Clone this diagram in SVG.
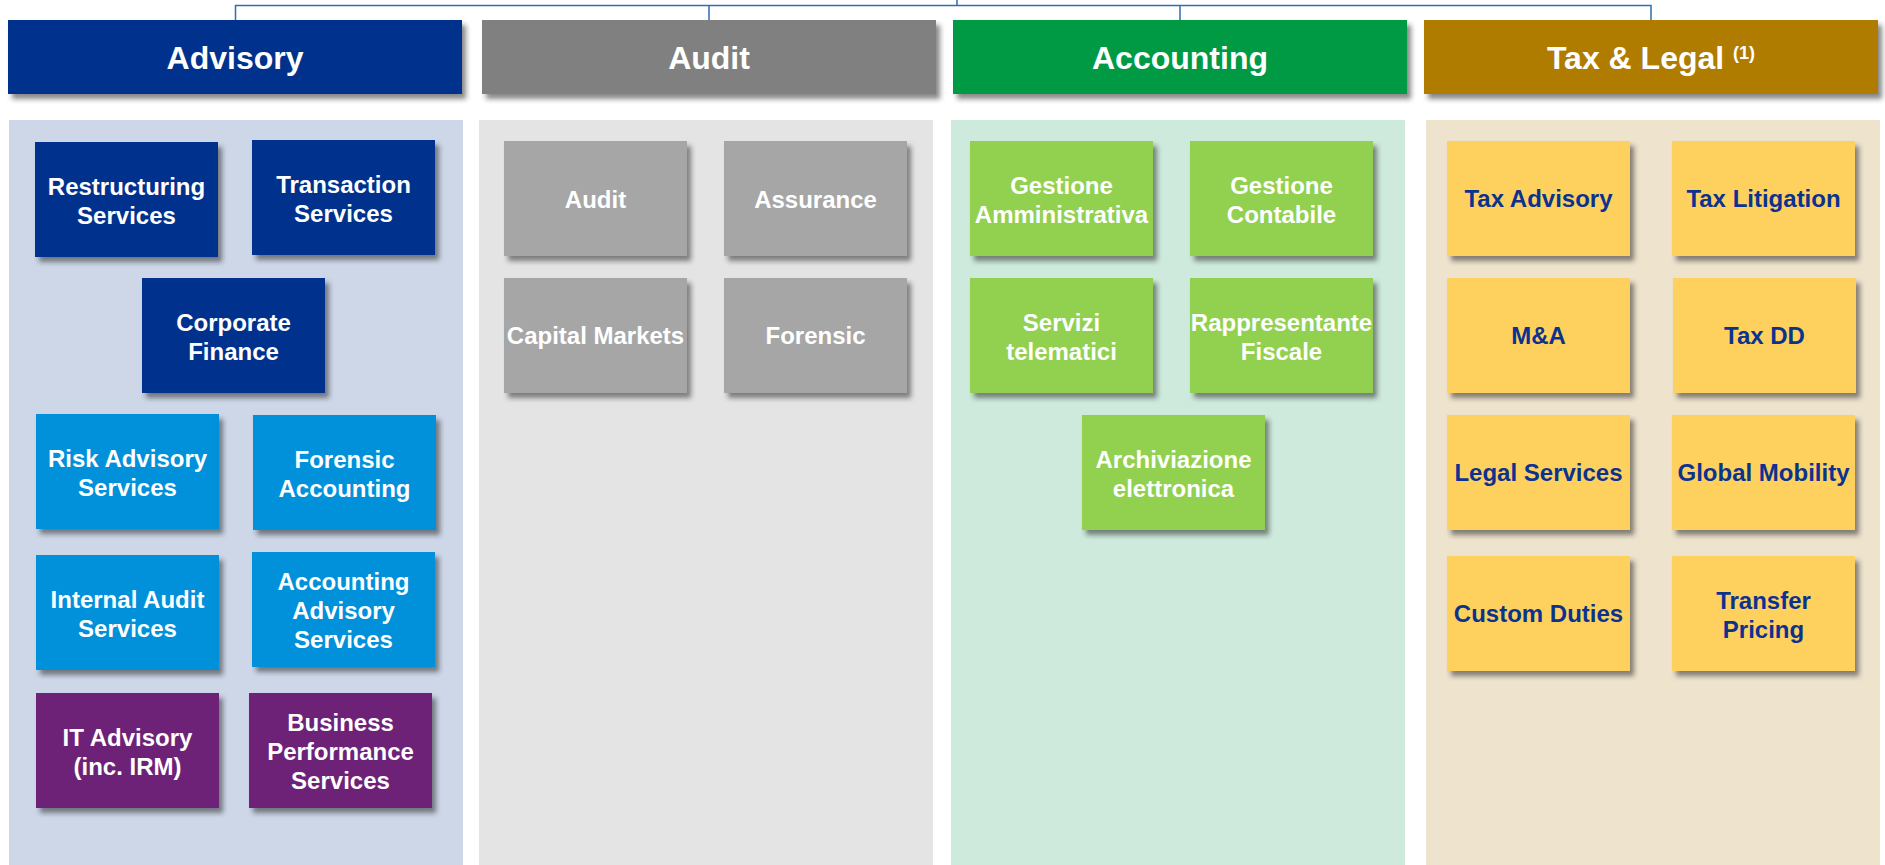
<svg xmlns="http://www.w3.org/2000/svg" width="1885" height="865" viewBox="0 0 1885 865">
<defs>
<filter id="sh" x="-10%" y="-10%" width="130%" height="140%">
<feDropShadow dx="4" dy="5" stdDeviation="2.5" flood-color="#2a2a2a" flood-opacity="0.55"/>
</filter>
<style>
text{font-family:"Liberation Sans",Arial,sans-serif;font-weight:bold;text-anchor:middle}
.hd{font-size:32px;fill:#fff}
.bx{font-size:24px;fill:#fff}
.bt{font-size:24px;fill:#0C3290}
.adv{fill:#00338D}
.lb{fill:#0091DA}
.pu{fill:#6D2077}
.au{fill:#A6A6A6}
.ac{fill:#92D050}
.tx{fill:#FED15E}
.conn{fill:none;stroke:#2F6DB5;stroke-width:1.5}
</style>
</defs>
<rect width="1885" height="865" fill="#fff"/>

<g id="connectors">
<path class="conn" d="M957 0 V5.5 M235.5 20 V5.5 H1651 V20 M709 5.5 V20 M1180 5.5 V20"/>
</g>

<g id="panels">
<rect x="9" y="120" width="454" height="745" fill="#CDD7E8"/>
<rect x="479" y="120" width="454" height="745" fill="#E4E4E4"/>
<rect x="951" y="120" width="454" height="745" fill="#CDEADC"/>
<rect x="1426" y="120" width="454" height="745" fill="#EEE3CD"/>
</g>

<g id="hdr-advisory"><rect x="8" y="20" width="454" height="74" fill="#00338D" filter="url(#sh)"/><text class="hd" x="235" y="68.5">Advisory</text></g>
<g id="hdr-audit"><rect x="482" y="20" width="454" height="74" fill="#808080" filter="url(#sh)"/><text class="hd" x="709" y="68.5">Audit</text></g>
<g id="hdr-accounting"><rect x="953" y="20" width="454" height="74" fill="#009A44" filter="url(#sh)"/><text class="hd" x="1180" y="68.5">Accounting</text></g>
<g id="hdr-tax"><rect x="1424" y="20" width="454" height="74" fill="#B07C00" filter="url(#sh)"/><text class="hd" x="1651" y="68.5">Tax &amp; Legal <tspan font-size="18" dy="-9.5">(1)</tspan></text></g>

<!-- Advisory -->
<g id="n-restructuring"><rect class="adv" x="35" y="142" width="183" height="115" filter="url(#sh)"/><text class="bx" x="126.5" y="194.5">Restructuring<tspan x="126.5" dy="29">Services</tspan></text></g>
<g id="n-transaction"><rect class="adv" x="252" y="140" width="183" height="115" filter="url(#sh)"/><text class="bx" x="343.5" y="192.5">Transaction<tspan x="343.5" dy="29">Services</tspan></text></g>
<g id="n-corporate"><rect class="adv" x="142" y="278" width="183" height="115" filter="url(#sh)"/><text class="bx" x="233.5" y="330.5">Corporate<tspan x="233.5" dy="29">Finance</tspan></text></g>
<g id="n-risk"><rect class="lb" x="36" y="414" width="183" height="115" filter="url(#sh)"/><text class="bx" x="127.5" y="466.5">Risk Advisory<tspan x="127.5" dy="29">Services</tspan></text></g>
<g id="n-forensic-acc"><rect class="lb" x="253" y="415" width="183" height="115" filter="url(#sh)"/><text class="bx" x="344.5" y="467.5">Forensic<tspan x="344.5" dy="29">Accounting</tspan></text></g>
<g id="n-internal"><rect class="lb" x="36" y="555" width="183" height="115" filter="url(#sh)"/><text class="bx" x="127.5" y="607.5">Internal Audit<tspan x="127.5" dy="29">Services</tspan></text></g>
<g id="n-accadv"><rect class="lb" x="252" y="552" width="183" height="115" filter="url(#sh)"/><text class="bx" x="343.5" y="590">Accounting<tspan x="343.5" dy="29">Advisory</tspan><tspan x="343.5" dy="29">Services</tspan></text></g>
<g id="n-it"><rect class="pu" x="36" y="693" width="183" height="115" filter="url(#sh)"/><text class="bx" x="127.5" y="745.5">IT Advisory<tspan x="127.5" dy="29">(inc. IRM)</tspan></text></g>
<g id="n-bps"><rect class="pu" x="249" y="693" width="183" height="115" filter="url(#sh)"/><text class="bx" x="340.5" y="731">Business<tspan x="340.5" dy="29">Performance</tspan><tspan x="340.5" dy="29">Services</tspan></text></g>

<!-- Audit -->
<g id="n-audit"><rect class="au" x="504" y="141" width="183" height="115" filter="url(#sh)"/><text class="bx" x="595.5" y="207.5">Audit</text></g>
<g id="n-assurance"><rect class="au" x="724" y="141" width="183" height="115" filter="url(#sh)"/><text class="bx" x="815.5" y="207.5">Assurance</text></g>
<g id="n-capital"><rect class="au" x="504" y="278" width="183" height="115" filter="url(#sh)"/><text class="bx" x="595.5" y="344">Capital Markets</text></g>
<g id="n-forensic"><rect class="au" x="724" y="278" width="183" height="115" filter="url(#sh)"/><text class="bx" x="815.5" y="344">Forensic</text></g>

<!-- Accounting -->
<g id="n-gest-amm"><rect class="ac" x="970" y="141" width="183" height="115" filter="url(#sh)"/><text class="bx" x="1061.5" y="193.5">Gestione<tspan x="1061.5" dy="29">Amministrativa</tspan></text></g>
<g id="n-gest-cont"><rect class="ac" x="1190" y="141" width="183" height="115" filter="url(#sh)"/><text class="bx" x="1281.5" y="193.5">Gestione<tspan x="1281.5" dy="29">Contabile</tspan></text></g>
<g id="n-servizi"><rect class="ac" x="970" y="278" width="183" height="115" filter="url(#sh)"/><text class="bx" x="1061.5" y="330.5">Servizi<tspan x="1061.5" dy="29">telematici</tspan></text></g>
<g id="n-rappr"><rect class="ac" x="1190" y="278" width="183" height="115" filter="url(#sh)"/><text class="bx" x="1281.5" y="330.5">Rappresentante<tspan x="1281.5" dy="29">Fiscale</tspan></text></g>
<g id="n-archiv"><rect class="ac" x="1082" y="415" width="183" height="115" filter="url(#sh)"/><text class="bx" x="1173.5" y="467.5">Archiviazione<tspan x="1173.5" dy="29">elettronica</tspan></text></g>

<!-- Tax & Legal -->
<g id="n-taxadv"><rect class="tx" x="1447" y="141" width="183" height="115" filter="url(#sh)"/><text class="bt" x="1538.5" y="207">Tax Advisory</text></g>
<g id="n-taxlit"><rect class="tx" x="1672" y="141" width="183" height="115" filter="url(#sh)"/><text class="bt" x="1763.5" y="207">Tax Litigation</text></g>
<g id="n-ma"><rect class="tx" x="1447" y="278" width="183" height="115" filter="url(#sh)"/><text class="bt" x="1538.5" y="344">M&amp;A</text></g>
<g id="n-taxdd"><rect class="tx" x="1673" y="278" width="183" height="115" filter="url(#sh)"/><text class="bt" x="1764.5" y="344">Tax DD</text></g>
<g id="n-legal"><rect class="tx" x="1447" y="415" width="183" height="115" filter="url(#sh)"/><text class="bt" x="1538.5" y="481">Legal Services</text></g>
<g id="n-global"><rect class="tx" x="1672" y="415" width="183" height="115" filter="url(#sh)"/><text class="bt" x="1763.5" y="481">Global Mobility</text></g>
<g id="n-custom"><rect class="tx" x="1447" y="556" width="183" height="115" filter="url(#sh)"/><text class="bt" x="1538.5" y="622">Custom Duties</text></g>
<g id="n-transfer"><rect class="tx" x="1672" y="556" width="183" height="115" filter="url(#sh)"/><text class="bt" x="1763.5" y="608.5">Transfer<tspan x="1763.5" dy="29">Pricing</tspan></text></g>
</svg>
